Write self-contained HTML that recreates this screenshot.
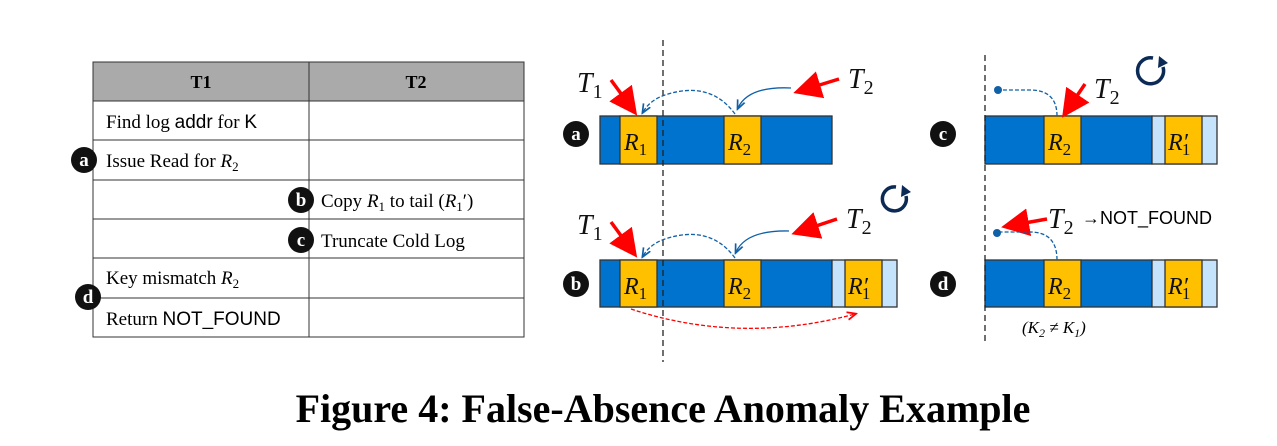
<!DOCTYPE html>
<html><head><style>
body{margin:0;background:#fff;width:1277px;height:441px;overflow:hidden}
svg text{font-family:"Liberation Serif",serif}
</style></head><body>
<svg width="1277" height="441" xmlns="http://www.w3.org/2000/svg">
<defs>
<marker id="rh" markerWidth="8" markerHeight="8" refX="6" refY="4" orient="auto"><path d="M0,0 L8,4 L0,8 z" fill="#f00"/></marker>
<marker id="bh" markerWidth="8" markerHeight="8" refX="6" refY="4" orient="auto"><path d="M0,1 L7,4 L0,7" fill="none" stroke="#1060a8" stroke-width="1.3"/></marker>
<marker id="rd" markerWidth="8" markerHeight="8" refX="6" refY="4" orient="auto"><path d="M0,1 L7,4 L0,7" fill="none" stroke="#f00" stroke-width="1.3"/></marker>
</defs>
<!-- table -->
<rect x="93" y="62" width="431" height="39" fill="#aaa" stroke="#333"/>
<text x="201" y="88" font-size="18" font-weight="bold" text-anchor="middle">T1</text>
<text x="416" y="88" font-size="18" font-weight="bold" text-anchor="middle">T2</text>
<g stroke="#333" fill="none">
<rect x="93" y="101" width="431" height="236"/>
<line x1="309" y1="62" x2="309" y2="337"/>
<line x1="93" y1="140" x2="524" y2="140"/>
<line x1="93" y1="180" x2="524" y2="180"/>
<line x1="93" y1="219" x2="524" y2="219"/>
<line x1="93" y1="258" x2="524" y2="258"/>
<line x1="93" y1="298" x2="524" y2="298"/>
</g>
<g font-size="19">
<text x="106" y="128">Find log <tspan font-family="Liberation Sans">addr</tspan> for <tspan font-family="Liberation Sans">K</tspan></text>
<text x="106" y="167">Issue Read for <tspan font-style="italic">R</tspan><tspan font-size="13" dy="4">2</tspan></text>
<text x="321" y="207">Copy <tspan font-style="italic">R</tspan><tspan font-size="13" dy="4">1</tspan><tspan dy="-4"> to tail (</tspan><tspan font-style="italic">R</tspan><tspan font-size="13" dy="4">1</tspan><tspan dy="-4">′)</tspan></text>
<text x="321" y="247">Truncate Cold Log</text>
<text x="106" y="284">Key mismatch <tspan font-style="italic">R</tspan><tspan font-size="13" dy="4">2</tspan></text>
<text x="106" y="325">Return <tspan font-family="Liberation Sans">NOT_FOUND</tspan></text>
</g>
<g font-size="19" font-weight="bold" fill="#fff" text-anchor="middle">
<circle cx="84" cy="160" r="13" fill="#111"/><text x="84" y="166">a</text>
<circle cx="301" cy="200" r="13" fill="#111"/><text x="301" y="206">b</text>
<circle cx="301" cy="240" r="13" fill="#111"/><text x="301" y="246">c</text>
<circle cx="88" cy="297" r="13" fill="#111"/><text x="88" y="303">d</text>
<circle cx="576" cy="134" r="13" fill="#111"/><text x="576" y="140">a</text>
<circle cx="576" cy="284" r="13" fill="#111"/><text x="576" y="290">b</text>
<circle cx="943" cy="134" r="13" fill="#111"/><text x="943" y="140">c</text>
<circle cx="943" cy="284" r="13" fill="#111"/><text x="943" y="290">d</text>
</g>
<!-- bars -->
<g stroke="#333" stroke-width="1.3">
<rect x="600" y="116" width="232" height="48" fill="#0073cf"/>
<rect x="620" y="116" width="37" height="48" fill="#ffc000"/>
<rect x="724" y="116" width="37" height="48" fill="#ffc000"/>
<rect x="600" y="260" width="232" height="47" fill="#0073cf"/>
<rect x="620" y="260" width="37" height="47" fill="#ffc000"/>
<rect x="724" y="260" width="37" height="47" fill="#ffc000"/>
<rect x="832" y="260" width="65" height="47" fill="#c5e3fb"/>
<rect x="845" y="260" width="37" height="47" fill="#ffc000"/>
<rect x="985" y="116" width="167" height="48" fill="#0073cf"/>
<rect x="1044" y="116" width="37" height="48" fill="#ffc000"/>
<rect x="1152" y="116" width="65" height="48" fill="#c5e3fb"/>
<rect x="1165" y="116" width="37" height="48" fill="#ffc000"/>
<rect x="985" y="260" width="167" height="47" fill="#0073cf"/>
<rect x="1044" y="260" width="37" height="47" fill="#ffc000"/>
<rect x="1152" y="260" width="65" height="47" fill="#c5e3fb"/>
<rect x="1165" y="260" width="37" height="47" fill="#ffc000"/>
</g>
<g font-size="24" font-style="italic" fill="#111">
<text x="624" y="150">R<tspan font-size="17" font-style="normal" dy="5">1</tspan></text>
<text x="728" y="150">R<tspan font-size="17" font-style="normal" dy="5">2</tspan></text>
<text x="624" y="294">R<tspan font-size="17" font-style="normal" dy="5">1</tspan></text>
<text x="728" y="294">R<tspan font-size="17" font-style="normal" dy="5">2</tspan></text>
<text x="848" y="294">R′<tspan font-size="17" font-style="normal" dx="-6" dy="5">1</tspan></text>
<text x="1048" y="150">R<tspan font-size="17" font-style="normal" dy="5">2</tspan></text>
<text x="1168" y="150">R′<tspan font-size="17" font-style="normal" dx="-6" dy="5">1</tspan></text>
<text x="1048" y="294">R<tspan font-size="17" font-style="normal" dy="5">2</tspan></text>
<text x="1168" y="294">R′<tspan font-size="17" font-style="normal" dx="-6" dy="5">1</tspan></text>
<text x="577" y="92" font-size="28">T<tspan font-size="20" font-style="normal" dy="6">1</tspan></text>
<text x="848" y="88" font-size="28">T<tspan font-size="20" font-style="normal" dy="6">2</tspan></text>
<text x="577" y="234" font-size="28">T<tspan font-size="20" font-style="normal" dy="6">1</tspan></text>
<text x="846" y="228" font-size="28">T<tspan font-size="20" font-style="normal" dy="6">2</tspan></text>
<text x="1094" y="98" font-size="28">T<tspan font-size="20" font-style="normal" dy="6">2</tspan></text>
<text x="1048" y="228" font-size="28">T<tspan font-size="20" font-style="normal" dy="6">2</tspan></text>
</g>
<text x="1082" y="224" font-size="18" font-family="Liberation Sans" style="font-family:'Liberation Sans',sans-serif">→NOT_FOUND</text>
<text x="1022" y="333" font-size="17" font-style="italic">(K<tspan font-size="12" dy="4">2</tspan><tspan dy="-4"> ≠ K</tspan><tspan font-size="12" dy="4">1</tspan><tspan dy="-4">)</tspan></text>
<!-- dashed verticals -->
<line x1="663" y1="40" x2="663" y2="362" stroke="#222" stroke-width="1.3" stroke-dasharray="6,4"/>
<line x1="985" y1="55" x2="985" y2="342" stroke="#222" stroke-width="1.3" stroke-dasharray="6,4"/>
<!-- red arrows -->
<g stroke="#f00" stroke-width="3.5" fill="none" marker-end="url(#rh)">
<line x1="611" y1="80" x2="633" y2="110"/>
<line x1="839" y1="79" x2="800" y2="91"/>
<line x1="611" y1="222" x2="633" y2="252"/>
<line x1="837" y1="219" x2="798" y2="232"/>
<line x1="1085" y1="84" x2="1066" y2="112"/>
<line x1="1047" y1="219" x2="1008" y2="226"/>
</g>
<!-- blue dashed curves -->
<g stroke="#1060a8" stroke-width="1.3" fill="none">
<path d="M735,114 Q710,80 665,95 Q650,100 643,112" stroke-dasharray="4,2" marker-end="url(#bh)"/>
<path d="M791,88 Q748,86 738,108" marker-end="url(#bh)"/>
<path d="M735,258 Q710,224 665,239 Q650,244 643,256" stroke-dasharray="4,2" marker-end="url(#bh)"/>
<path d="M789,231 Q746,230 736,252" marker-end="url(#bh)"/>
<path d="M1057,116 Q1057,90 1030,90 L999,90" stroke-dasharray="4,2"/>
<path d="M1057,260 Q1057,232 1030,232 L998,232" stroke-dasharray="4,2"/>
</g>
<circle cx="998" cy="90" r="4" fill="#1060a8"/>
<circle cx="997" cy="233" r="4" fill="#1060a8"/>
<path d="M631,309 Q740,345 855,314" stroke="#f00" stroke-width="1.3" stroke-dasharray="4,2" fill="none" marker-end="url(#rd)"/>
<!-- rotate icons -->
<g stroke="#0b2a55" stroke-width="3.5" fill="none">
<path d="M906,196 A12,12 0 1 1 896,187"/>
<path d="M1163,67 A13,13 0 1 1 1153,58"/>
</g>
<path d="M902,185 L911,192 L901,197 z" fill="#0b2a55"/>
<path d="M1159,56 L1168,63 L1158,68 z" fill="#0b2a55"/>
<text x="663" y="422" font-size="40" font-weight="bold" text-anchor="middle">Figure 4: False-Absence Anomaly Example</text>
</svg>
</body></html>
